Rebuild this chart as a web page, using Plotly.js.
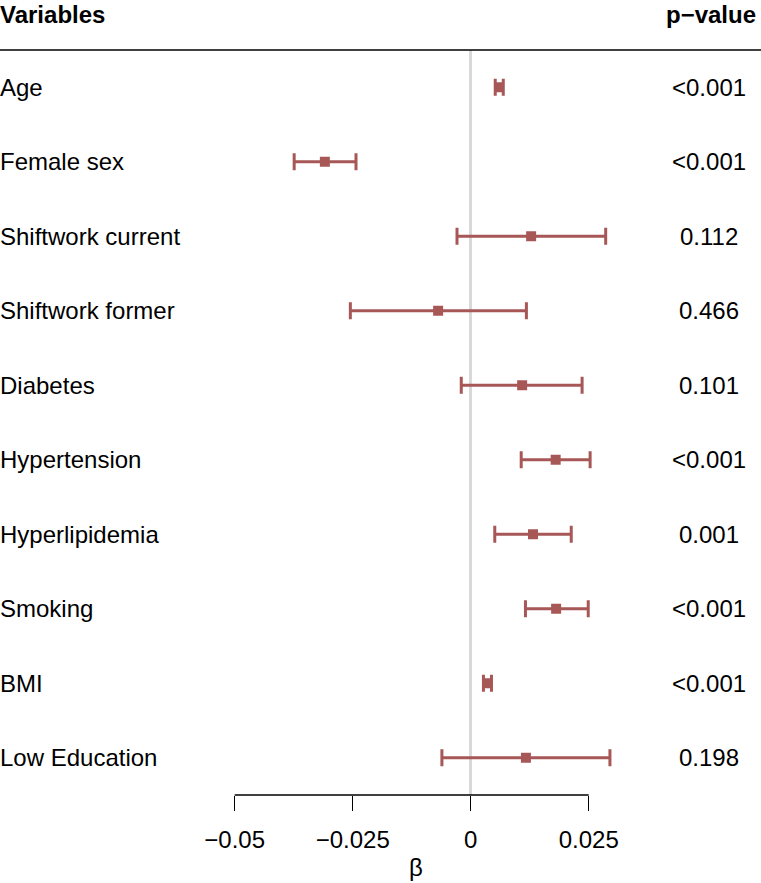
<!DOCTYPE html>
<html>
<head>
<meta charset="utf-8">
<script src="https://cdn.plot.ly/plotly-3.0.1.min.js"></script>
<style>html,body{margin:0;padding:0;background:#fff;}#chart{width:761px;height:883px;}</style>
</head>
<body>
<div id="chart"></div>
<script>
const variables = ["Age","Female sex","Shiftwork current","Shiftwork former","Diabetes","Hypertension","Hyperlipidemia","Smoking","BMI","Low Education"];
const beta   = [0.0060, -0.0309, 0.0128, -0.0069, 0.0109, 0.0180, 0.0132, 0.0181, 0.0035, 0.0117];
const ciLow  = [0.0052, -0.0374, -0.0029, -0.0255, -0.0020, 0.0107, 0.0051, 0.0116, 0.0027, -0.0061];
const ciHigh = [0.0069, -0.0243, 0.0286, 0.0118, 0.0236, 0.0253, 0.0213, 0.0249, 0.0044, 0.0295];
const pvalues = ["<0.001","<0.001","0.112","0.466","0.101","<0.001","0.001","<0.001","<0.001","0.198"];
const tickValues = [-0.05, -0.025, 0, 0.025];
const tickLabels = ["\u22120.05", "\u22120.025", "0", "0.025"];

const FONT = "Liberation Sans, Arial, Helvetica, sans-serif";
const COL = "#A85757";
const idx = variables.map((_, i) => i);

const trace = {
  type: "scatter",
  mode: "markers",
  x: beta,
  y: idx,
  marker: {symbol: "square", size: 10, color: COL},
  error_x: {
    type: "data",
    symmetric: false,
    array: beta.map((b, i) => ciHigh[i] - b),
    arrayminus: beta.map((b, i) => b - ciLow[i]),
    color: COL,
    thickness: 3,
    width: 8.5
  },
  hoverinfo: "skip",
  showlegend: false
};

const annotations = [];
variables.forEach((v, i) => {
  annotations.push({xref: "paper", yref: "y", x: 0, y: i, xanchor: "left", yanchor: "middle", xshift: -2,
    text: v, showarrow: false, font: {family: FONT, size: 24, color: "#000"}});
  annotations.push({xref: "paper", yref: "y", x: 708.5 / 761, y: i, xanchor: "center", yanchor: "middle",
    text: pvalues[i], showarrow: false, font: {family: FONT, size: 24, color: "#000"}});
});
annotations.push({xref: "paper", yref: "paper", x: 0, y: 1 + 35 / 745, xanchor: "left", yanchor: "middle", xshift: -2,
  text: "<b>Variables</b>", showarrow: false, font: {family: FONT, size: 24, color: "#000"}});
annotations.push({xref: "paper", yref: "paper", x: 758 / 761, y: 1 + 35 / 745, xanchor: "right", yanchor: "middle",
  text: "<b>p\u2212value</b>", showarrow: false, font: {family: FONT, size: 24, color: "#000"}});
annotations.push({xref: "x", yref: "paper", x: (tickValues[0] + tickValues[tickValues.length - 1]) / 2 + 0.001, y: -87 / 745,
  xanchor: "center", yanchor: "bottom", borderpad: 0,
  text: "\u03b2", showarrow: false, font: {family: FONT, size: 24, color: "#000"}});

const layout = {
  width: 761, height: 883,
  margin: {l: 0, r: 0, t: 50, b: 88, pad: 0},
  paper_bgcolor: "#fff", plot_bgcolor: "#fff",
  font: {family: FONT, size: 24, color: "#000"},
  xaxis: {
    range: [-470.7 / 4720, 290.3 / 4720],
    showgrid: false,
    zeroline: true, zerolinecolor: "#d9d9d9", zerolinewidth: 3,
    showline: false,
    tickmode: "array", tickvals: tickValues, ticktext: tickLabels,
    ticks: "outside", ticklen: 15, tickwidth: 1.3, tickcolor: "#000",
    ticklabelstandoff: 8,
    tickfont: {family: FONT, size: 24, color: "#000"},
    fixedrange: true
  },
  yaxis: {
    range: [9.5, -0.5],
    showgrid: false, zeroline: false, showline: false, showticklabels: false, ticks: "",
    fixedrange: true
  },
  shapes: [
    {type: "line", xref: "paper", yref: "paper", x0: 0, x1: 1, y0: 1, y1: 1, line: {color: "#000", width: 1.5}},
    {type: "line", xref: "x", yref: "paper", x0: tickValues[0], x1: tickValues[tickValues.length - 1], y0: 0, y1: 0, line: {color: "#000", width: 1.3}}
  ],
  annotations: annotations
};

Plotly.newPlot("chart", [trace], layout, {staticPlot: true, displayModeBar: false});
</script>
</body>
</html>
